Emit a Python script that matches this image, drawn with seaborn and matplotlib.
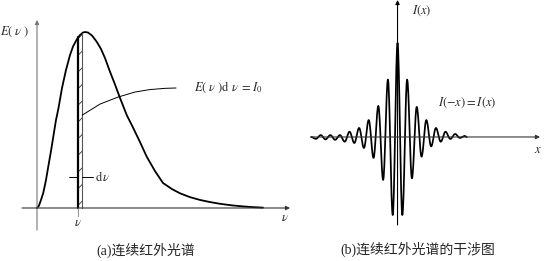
import numpy as np
import matplotlib
matplotlib.use("Agg")
import matplotlib.pyplot as plt
import seaborn as sns

# ---------------- data: (a) continuous IR spectrum E(nu) ----------------
nu = [0.0, 0.08, 0.16, 0.25, 0.36, 0.45, 0.56, 0.65, 0.76, 0.86, 1.00, 1.16,
      1.32, 1.44, 1.59, 1.72, 1.84, 1.92, 2.04, 2.20, 2.39, 2.56, 2.72, 2.92,
      3.12, 3.32, 3.59, 3.84, 4.12, 4.39, 4.72, 5.04, 5.40, 5.72, 6.12, 6.52,
      6.92, 7.32, 7.80, 8.24, 8.64, 9.04]
E = [0.0, 0.014, 0.046, 0.086, 0.160, 0.236, 0.326, 0.406, 0.503, 0.571, 0.686,
     0.789, 0.874, 0.923, 0.963, 0.989, 1.003, 1.006, 1.003, 0.986, 0.950,
     0.909, 0.857, 0.779, 0.706, 0.629, 0.531, 0.460, 0.377, 0.293, 0.211,
     0.143, 0.108, 0.084, 0.062, 0.046, 0.034, 0.024, 0.015, 0.009, 0.005,
     0.002]
strip_nu = [1.65, 1.81]          # nu and nu + d nu
dnu_mark_E = 0.179
leader_nu = [1.81, 2.52, 3.24, 3.92, 4.52, 5.12, 5.56]
leader_E = [0.531, 0.594, 0.634, 0.663, 0.677, 0.684, 0.686]

# ---------------- data: (b) interferogram extrema ----------------
fringe_x = [-9.0, -8.5, -8.0, -7.5, -7.0, -6.5, -6.0, -5.5, -5.0, -4.5, -4.0,
            -3.5, -3.0, -2.5, -2.0, -1.5, -1.0, -0.5, 0.0, 0.5, 1.0, 1.5, 2.0,
            2.5, 3.0, 3.5, 4.0, 4.5, 5.0, 5.5, 6.0, 6.5, 7.0, 7.2]
fringe_I = [0.0, -0.02, 0.02, -0.025, 0.02, -0.03, 0.02, -0.05, 0.056, -0.064,
            0.096, -0.117, 0.18, -0.223, 0.33, -0.457, 0.61, -0.83, 1.0, -0.83,
            0.61, -0.44, 0.32, -0.21, 0.18, -0.10, 0.096, -0.05, 0.056, -0.021,
            0.032, -0.01, 0.011, 0.0]

caption_a = ("(a)", "连续红外光谱")
caption_b = ("(b)", "连续红外光谱的干涉图")

# ---------------- style ----------------
sns.set_theme(style="white")
plt.rcParams["font.family"] = ["Liberation Serif", "Noto Sans CJK SC", "DejaVu Sans"]
plt.rcParams["mathtext.fontset"] = "stix"
plt.rcParams["hatch.linewidth"] = 0.6

fig = plt.figure(figsize=(5.45, 2.61), dpi=100)
axA = fig.add_axes([0, 0, 290 / 545, 1])
axB = fig.add_axes([290 / 545, 0, 255 / 545, 1])
for ax in (axA, axB):
    ax.set_axis_off()

# ---------------- panel (a) ----------------
axA.set_xlim(-1.48, 10.12)
axA.set_ylim(-0.303, 1.189)

def arrow(ax, start, end, color, lw=0.8, ms=6):
    ax.annotate("", xy=end, xytext=start,
                arrowprops=dict(arrowstyle="-|>", lw=lw, color=color,
                                mutation_scale=ms, shrinkA=0, shrinkB=0))

arrow(axA, (0, -0.126), (0, 1.075), "#777777")
arrow(axA, (-0.6, 0), (10.12, 0), "#333333")

sns.lineplot(x=nu, y=E, ax=axA, color="black", linewidth=1.3, estimator=None)

# strip
s_nu = np.linspace(strip_nu[0], strip_nu[1], 10)
s_E = np.interp(s_nu, nu, E)
axA.fill_between(s_nu, 0, s_E, facecolor="white", edgecolor="#333333",
                 hatch="//", linewidth=0)
axA.plot([strip_nu[0], strip_nu[0]], [0, s_E[0]], color="black", lw=1.6)
axA.plot([strip_nu[1], strip_nu[1]], [0, s_E[-1]], color="#555555", lw=0.8)
axA.plot([strip_nu[0], strip_nu[0]], [-0.045, 0], color="#999999", lw=0.8)

# d nu marker
axA.plot([1.29, strip_nu[0]], [dnu_mark_E, dnu_mark_E], color="black", lw=0.7)
axA.plot([strip_nu[1], 2.25], [dnu_mark_E, dnu_mark_E], color="black", lw=0.7)
axA.text(2.32, dnu_mark_E, r"$\mathrm{d}\,\nu$", fontsize=9, va="center", ha="left")

# leader
axA.plot(leader_nu, leader_E, color="black", lw=0.7)
axA.text(6.3, 0.69, r"$E(\ \nu\ )\mathrm{d}\ \nu\ =I_0$", fontsize=9,
         va="center", ha="left")

axA.text(-1.47, 1.006, r"$E(\ \nu\ )$", fontsize=9, va="center", ha="left")
axA.text(strip_nu[0], -0.085, r"$\nu$", fontsize=9, va="center", ha="center")
axA.text(9.93, -0.06, r"$\nu$", fontsize=9, va="center", ha="center")

# ---------------- panel (b) ----------------
axB.set_xlim(-11.2, 15.36)
axB.set_ylim(-1.319, 1.457)
arrow(axB, (0, -0.936), (0, 1.457), "black")
arrow(axB, (-9.0, 0), (14.84, 0), "#333333")

# smooth half-cosine rendering between the read extrema
wx, wy = [], []
for i in range(len(fringe_x) - 1):
    t = np.linspace(0, 1, 16, endpoint=False)
    x0, x1 = fringe_x[i], fringe_x[i + 1]
    y0, y1 = fringe_I[i], fringe_I[i + 1]
    wx.extend(x0 + (x1 - x0) * t)
    wy.extend(y0 + (y1 - y0) * (1 - np.cos(np.pi * t)) / 2)
wx.append(fringe_x[-1]); wy.append(fringe_I[-1])
sns.lineplot(x=wx, y=wy, ax=axB, color="black", linewidth=1.25,
             estimator=None, sort=False)

axB.text(1.5, 1.34, r"$I(x)$", fontsize=9, va="center", ha="left")
axB.text(4.2, 0.36, r"$I(-x)=I(x)$", fontsize=9, va="center", ha="left")
axB.text(14.6, -0.14, r"$x$", fontsize=9, va="center", ha="center")

# captions: latin part in serif, CJK part in CJK font
def caption(xc, yc, parts):
    t = fig.text(xc, yc, parts[0] + parts[1], fontsize=10, ha="center", va="center",
                 family=["Liberation Serif", "Noto Sans CJK SC"])
    return t

caption(146 / 545, 1 - 250 / 261, caption_a)
caption(418 / 545, 1 - 249 / 261, caption_b)

fig.savefig("out.png", dpi=100)
